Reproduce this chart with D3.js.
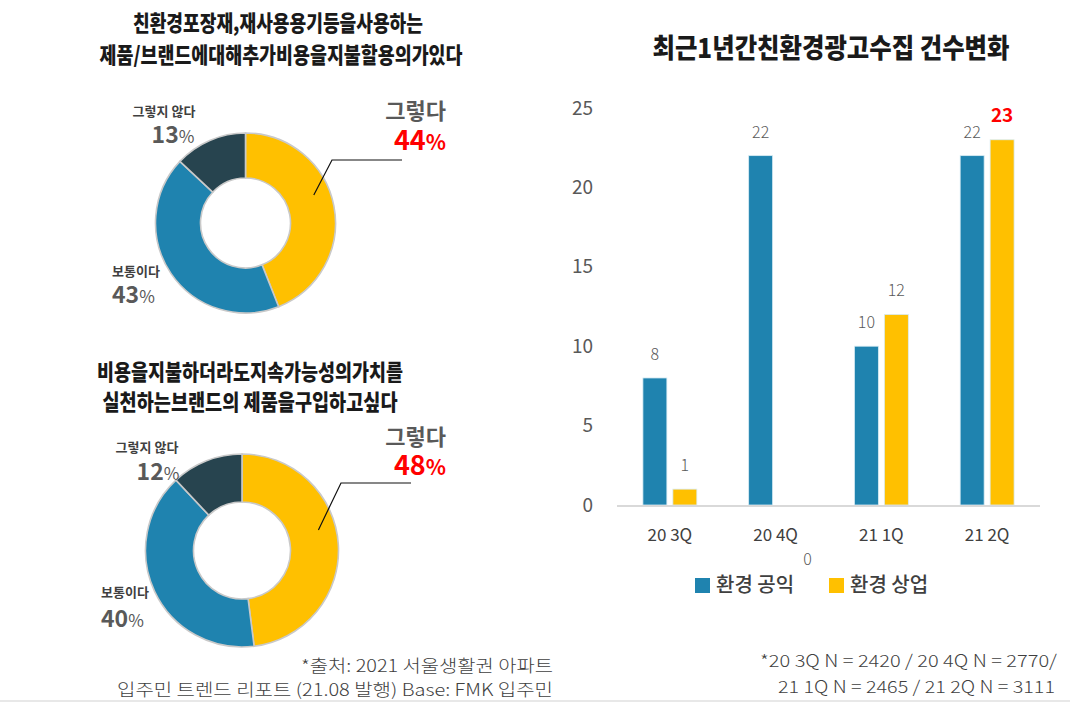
<!DOCTYPE html>
<html>
<head>
<meta charset="utf-8">
<script src="https://cdn.jsdelivr.net/npm/d3@7"></script>
<style>
  body { margin: 0; background: #fff; }
  svg { display: block; font-family: "Noto Sans CJK KR", "Noto Sans", sans-serif; }
</style>
</head>
<body>
<div id="chart"></div>
<script>
// 도넛 데이터
const donutLabels = ["그렇다", "보통이다", "그렇지 않다"];
const donut1Values = [44, 43, 13];
const donut2Values = [48, 40, 12];
const donutColors = ["#FFC000", "#1F83AF", "#27444F"];

// 막대 데이터
const quarters = ["20 3Q", "20 4Q", "21 1Q", "21 2Q"];
const seriesNames = ["환경 공익", "환경 상업"];
const publicValues = [8, 22, 10, 22];
const commercialValues = [1, 0, 12, 23];
const yTicks = [0, 5, 10, 15, 20, 25];
const seriesColors = ["#1F83AF", "#FFC000"];

const width = 1070, height = 702;

const svg = d3.select("#chart").append("svg")
  .attr("width", width)
  .attr("height", height);

// 제목 (압축된 굵은 글씨)
function squeezedText(x, y, str, size, len, opts = {}) {
  return svg.append("text")
    .attr("x", x).attr("y", y)
    .attr("text-anchor", opts.anchor || "middle")
    .attr("textLength", len)
    .attr("lengthAdjust", "spacingAndGlyphs")
    .style("font-size", size + "px")
    .style("font-weight", opts.weight || 900)
    .style("fill", opts.fill || "#1a1a1a")
    .text(str);
}

squeezedText(278, 31, "친환경포장재,재사용용기등을사용하는", 22, 290);
squeezedText(281, 63, "제품/브랜드에대해추가비용을지불할용의가있다", 22, 363);
squeezedText(250, 380, "비용을지불하더라도지속가능성의가치를", 22, 306);
squeezedText(250, 410, "실천하는브랜드의 제품을구입하고싶다", 22, 295);
squeezedText(831, 58, "최근1년간친환경광고수집 건수변화", 27, 357);

// 도넛 그리기
const donuts = [
  {
    values: donut1Values, cx: 245.5, cy: 223, r: 90, ir: 45,
    elbow: [86.5, -63], end: [156.5, -63],
    labels: [
      { x: 446, y: 119, y2: 150, anchor: "end", big: true },
      { x: 112, y: 276, y2: 303, anchor: "start" },
      { x: 164, y: 116, y2: 143, anchor: "middle", nx: 173 }
    ]
  },
  {
    values: donut2Values, cx: 242, cy: 550.5, r: 96.5, ir: 48.5,
    elbow: [99, -67.5], end: [169, -67.5],
    labels: [
      { x: 446, y: 445, y2: 475, anchor: "end", big: true },
      { x: 101, y: 597, y2: 627, anchor: "start" },
      { x: 147, y: 452, y2: 480, anchor: "middle", nx: 158 }
    ]
  }
];

const pie = d3.pie().sort(null).value(d => d);

donuts.forEach(cfg => {
  const g = svg.append("g").attr("transform", `translate(${cfg.cx},${cfg.cy})`);
  const arcs = pie(cfg.values);
  const arc = d3.arc().innerRadius(cfg.ir).outerRadius(cfg.r);

  g.selectAll("path")
    .data(arcs)
    .enter().append("path")
    .attr("d", arc)
    .attr("fill", (d, i) => donutColors[i])
    .attr("stroke", "#c9c9c9")
    .attr("stroke-width", 1.6);

  // 지시선
  const a = arcs[0];
  const ang = (a.startAngle + a.endAngle) / 2 - 0.2;
  const rr = cfg.r * 0.82;
  const start = [rr * Math.sin(ang), -rr * Math.cos(ang)];
  g.append("path")
    .attr("d", d3.line()([start, cfg.elbow, cfg.end]))
    .attr("fill", "none")
    .attr("stroke", "#111")
    .attr("stroke-width", 1.2);

  // 라벨
  cfg.labels.forEach((lb, i) => {
    svg.append("text")
      .attr("x", lb.x).attr("y", lb.y)
      .attr("text-anchor", lb.anchor)
      .style("fill", lb.big ? "#595959" : "#404040")
      .style("font-size", lb.big ? "22px" : "13px")
      .style("font-weight", 700)
      .text(donutLabels[i]);

    const numT = svg.append("text")
      .attr("x", lb.nx !== undefined ? lb.nx : lb.x)
      .attr("y", lb.y2)
      .attr("text-anchor", lb.anchor)
      .style("fill", lb.big ? "#FF0000" : "#595959")
      .style("font-weight", 700);
    numT.append("tspan")
      .style("font-size", lb.big ? "27px" : "23px")
      .text(cfg.values[i]);
    numT.append("tspan")
      .style("font-size", lb.big ? "21px" : "17px")
      .style("font-weight", lb.big ? 700 : 400)
      .text("%");
  });
});

// 막대 차트
const y = d3.scaleLinear().domain([0, 25]).range([505, 108]);
const x0 = d3.scaleBand().domain(quarters).range([617, 1040])
  .paddingInner(0.49).paddingOuter(0.245);
const x1 = d3.scaleBand().domain(seriesNames).range([0, x0.bandwidth()])
  .paddingInner(0.2);

const barData = quarters.map((q, i) => ({
  q: q,
  vals: [
    { s: seriesNames[0], v: publicValues[i] },
    { s: seriesNames[1], v: commercialValues[i] }
  ]
}));

// y 축
const yAxis = svg.append("g")
  .attr("transform", "translate(600,0)")
  .call(d3.axisLeft(y).tickValues(yTicks).tickSize(0).tickPadding(7));
yAxis.select(".domain").remove();
yAxis.selectAll("text")
  .style("font-family", "'Noto Sans CJK KR', 'Noto Sans', sans-serif")
  .style("font-size", "19px")
  .style("fill", "#595959");

const groups = svg.selectAll(".grp")
  .data(barData)
  .enter().append("g")
  .attr("class", "grp")
  .attr("transform", d => `translate(${x0(d.q)},0)`);

groups.selectAll("rect")
  .data(d => d.vals.filter(v => v.v > 0))
  .enter().append("rect")
  .attr("x", d => x1(d.s))
  .attr("y", d => y(d.v))
  .attr("width", x1.bandwidth())
  .attr("height", d => y(0) - y(d.v))
  .attr("fill", d => seriesColors[seriesNames.indexOf(d.s)])
  .attr("stroke", "#d8ecf4")
  .attr("stroke-width", 0.8);

// 값 라벨
groups.selectAll(".val")
  .data(d => d.vals)
  .enter().append("text")
  .attr("class", "val")
  .attr("x", d => x1(d.s) + x1.bandwidth() / 2 + (d.v === 0 ? 17 : 0))
  .attr("y", d => d.v === 0 ? 565 : y(d.v) - 18)
  .attr("text-anchor", "middle")
  .style("font-size", d => d.v === 23 ? "19px" : "16px")
  .style("font-weight", d => d.v === 23 ? 700 : 300)
  .style("fill", d => d.v === 23 ? "#FF0000" : "#595959")
  .text(d => d.v);

// x 축 기준선
svg.append("line")
  .attr("x1", 617).attr("x2", 1040)
  .attr("y1", y(0) + 1).attr("y2", y(0) + 1)
  .attr("stroke", "#d9d9d9")
  .attr("stroke-width", 2);

// x 축 라벨
svg.selectAll(".xl")
  .data(quarters)
  .enter().append("text")
  .attr("class", "xl")
  .attr("x", d => x0(d) + x0.bandwidth() / 2)
  .attr("y", 541)
  .attr("text-anchor", "middle")
  .style("font-size", "17px")
  .style("fill", "#404040")
  .text(d => d);

// 범례
const legend = svg.selectAll(".lg")
  .data(seriesNames)
  .enter().append("g")
  .attr("class", "lg")
  .attr("transform", (d, i) => `translate(${695 + i * 134},578)`);
legend.append("rect")
  .attr("width", 15).attr("height", 15)
  .attr("fill", (d, i) => seriesColors[i]);
legend.append("text")
  .attr("x", 21).attr("y", 14)
  .style("font-size", "20px")
  .style("font-weight", 500)
  .style("fill", "#404040")
  .text(d => d);

// 출처
squeezedText(553, 672, "*출처: 2021 서울생활권 아파트", 17, 252, { anchor: "end", weight: 300, fill: "#404040" });
squeezedText(553, 696, "입주민 트렌드 리포트 (21.08 발행) Base: FMK 입주민", 17, 436, { anchor: "end", weight: 300, fill: "#404040" });
squeezedText(1057, 667, "*20 3Q N = 2420 / 20 4Q N = 2770/", 17, 297, { anchor: "end", weight: 300, fill: "#404040" });
squeezedText(1055, 693, "21 1Q N = 2465 / 21 2Q N = 3111", 17, 277, { anchor: "end", weight: 300, fill: "#404040" });

// 하단 회색 띠
svg.append("rect")
  .attr("x", 0).attr("y", 700)
  .attr("width", width).attr("height", 2)
  .attr("fill", "#e8e8e8");
</script>
</body>
</html>
